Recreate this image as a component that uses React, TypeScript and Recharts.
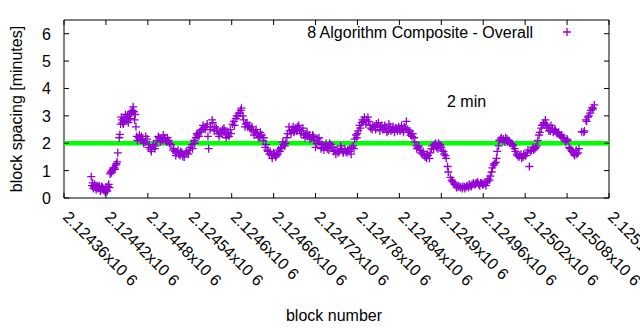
import { ScatterChart, Scatter, XAxis, YAxis, ReferenceLine, ReferenceArea, Customized } from 'recharts';

// block numbers (x) and block spacing in minutes (y)
const blocks = [
  2124399, 2124401, 2124403, 2124405, 2124407, 2124409, 2124411, 2124413, 2124415, 2124417,
  2124419, 2124421, 2124423, 2124425, 2124426, 2124427, 2124429, 2124430, 2124432, 2124434,
  2124436, 2124437, 2124439, 2124440, 2124443, 2124444, 2124446, 2124447, 2124449, 2124450,
  2124451, 2124453, 2124454, 2124456, 2124457, 2124459, 2124460, 2124461, 2124463, 2124464,
  2124467, 2124470, 2124473, 2124476, 2124479, 2124481, 2124484, 2124487, 2124490, 2124493,
  2124496, 2124499, 2124501, 2124504, 2124507, 2124510, 2124513, 2124516, 2124519, 2124521,
  2124524, 2124527, 2124530, 2124533, 2124536, 2124539, 2124541, 2124543, 2124546, 2124549,
  2124551, 2124554, 2124557, 2124560, 2124563, 2124566, 2124567, 2124570, 2124573, 2124576,
  2124579, 2124581, 2124584, 2124587, 2124590, 2124593, 2124596, 2124599, 2124601, 2124604,
  2124607, 2124610, 2124613, 2124614, 2124617, 2124620, 2124623, 2124626, 2124629, 2124631,
  2124634, 2124637, 2124640, 2124643, 2124646, 2124649, 2124651, 2124654, 2124657, 2124660,
  2124663, 2124666, 2124669, 2124671, 2124674, 2124677, 2124680, 2124683, 2124686, 2124689,
  2124691, 2124694, 2124697, 2124700, 2124703, 2124706, 2124709, 2124711, 2124714, 2124717,
  2124720, 2124723, 2124726, 2124729, 2124731, 2124734, 2124737, 2124740, 2124743, 2124746,
  2124749, 2124751, 2124754, 2124757, 2124760, 2124763, 2124766, 2124769, 2124771, 2124774,
  2124776, 2124779, 2124781, 2124784, 2124787, 2124790, 2124793, 2124796, 2124799, 2124801,
  2124804, 2124807, 2124810, 2124813, 2124816, 2124819, 2124821, 2124824, 2124827, 2124830,
  2124833, 2124836, 2124839, 2124841, 2124844, 2124847, 2124850, 2124853, 2124856, 2124859,
  2124861, 2124864, 2124867, 2124870, 2124873, 2124876, 2124879, 2124881, 2124884, 2124887,
  2124890, 2124893, 2124896, 2124899, 2124901, 2124904, 2124907, 2124909, 2124910, 2124913,
  2124916, 2124919, 2124921, 2124924, 2124927, 2124930, 2124933, 2124936, 2124939, 2124941,
  2124944, 2124947, 2124950, 2124953, 2124956, 2124959, 2124961, 2124964, 2124967, 2124970,
  2124973, 2124976, 2124979, 2124980, 2124983, 2124986, 2124989, 2124991, 2124994, 2124997,
  2125000, 2125003, 2125006, 2125009, 2125011, 2125014, 2125017, 2125020, 2125023, 2125026,
  2125029, 2125031, 2125034, 2125037, 2125040, 2125043, 2125046, 2125049, 2125051, 2125054,
  2125057, 2125060, 2125063, 2125066, 2125069, 2125071, 2125074, 2125077, 2125080, 2125083,
  2125086, 2125089, 2125091, 2125094, 2125097, 2125101, 2125104, 2125107, 2125110, 2125113,
  2125116, 2125119,
];

const spacing = [
  0.78, 0.55, 0.42, 0.38, 0.45, 0.35, 0.4, 0.3, 0.38, 0.28,
  0.22, 0.3, 0.42, 0.38, 0.88, 0.95, 1.0, 1.05, 1.12, 1.2,
  1.32, 1.65, 2.2, 2.32, 2.85, 2.75, 2.9, 2.8, 2.95, 2.85,
  3.0, 2.9, 3.05, 3.15, 3.1, 3.33, 3.15, 2.85, 2.6, 2.25,
  2.2, 2.15, 2.1, 2.05, 2.15, 1.85, 1.78, 1.88, 1.8, 2.1,
  2.2, 2.15, 2.1, 2.2, 2.05, 2.1, 1.95, 1.75, 1.7, 1.65,
  1.6, 1.7, 1.52, 1.6, 1.65, 1.75, 1.85, 1.95, 2.1, 2.2,
  2.3, 2.4, 2.5, 2.55, 2.6, 2.25, 1.8, 2.6, 2.75, 2.6,
  2.45, 2.35, 2.4, 2.5, 2.45, 2.3, 2.25, 2.35, 2.7, 2.65,
  3.0, 3.1, 3.2, 3.28, 2.85, 2.7, 2.6, 2.55, 2.6, 2.45,
  2.4, 2.35, 2.25, 2.3, 2.2, 1.95, 1.75, 1.6, 1.55, 1.65,
  1.5, 1.6, 1.7, 1.85, 1.95, 2.0, 2.35, 2.45, 2.5, 2.4,
  2.55, 2.6, 2.5, 2.45, 2.3, 2.35, 2.25, 2.3, 2.2, 2.25,
  1.85, 2.15, 2.05, 1.95, 1.85, 1.9, 1.8, 2.0, 1.85, 1.7,
  1.6, 1.75, 1.7, 1.8, 1.65, 1.7, 1.75, 1.8, 1.6, 1.9,
  2.15, 2.2, 2.45, 2.55, 2.85, 2.95, 2.85, 2.8, 2.55, 2.5,
  2.6, 2.7, 2.75, 2.6, 2.5, 2.65, 2.55, 2.45, 2.6, 2.5,
  2.4, 2.55, 2.6, 2.45, 2.5, 2.6, 2.8, 2.4, 2.3, 2.35,
  2.2, 1.9, 1.85, 1.75, 1.6, 1.55, 1.45, 1.55, 1.65, 1.9,
  1.95, 1.85, 2.0, 1.9, 1.75, 1.6, 1.45, 1.15, 0.95, 0.75,
  0.6, 0.5, 0.45, 0.4, 0.38, 0.35, 0.4, 0.42, 0.38, 0.45,
  0.5, 0.48, 0.55, 0.5, 0.55, 0.48, 0.52, 0.45, 0.7, 0.8,
  1.1, 1.25, 1.45, 1.7, 2.1, 2.2, 2.15, 2.05, 2.15, 2.1,
  2.0, 1.9, 1.7, 1.55, 1.5, 1.6, 1.5, 1.55, 1.65, 1.15,
  1.75, 1.85, 1.8, 1.9, 2.3, 2.55, 2.7, 2.85, 2.6, 2.45,
  2.65, 2.4, 2.5, 2.35, 2.3, 2.25, 2.2, 2.1, 2.15, 1.85,
  1.75, 1.65, 1.55, 1.6, 1.8, 2.42, 2.4, 2.85, 2.95, 3.1,
  3.3, 3.4,
];

const moreBlocks = [
  2124400, 2124402, 2124404, 2124406, 2124408, 2124410, 2124412, 2124414, 2124416, 2124418,
  2124420, 2124422, 2124424, 2124428, 2124431, 2124433, 2124435, 2124441, 2124442, 2124445,
  2124448, 2124452, 2124455, 2124458, 2124462, 2124465, 2124468, 2124471, 2124474, 2124477,
  2124482, 2124485, 2124488, 2124491, 2124495, 2124498, 2124502, 2124505, 2124508, 2124511,
  2124517, 2124520, 2124523, 2124526, 2124529, 2124532, 2124535, 2124538, 2124544, 2124547,
  2124550, 2124553, 2124556, 2124559, 2124562, 2124565, 2124569, 2124572, 2124575, 2124578,
  2124582, 2124586, 2124589, 2124592, 2124595, 2124598, 2124603, 2124606, 2124609, 2124612,
  2124616, 2124619, 2124622, 2124625, 2124628, 2124632, 2124635, 2124638, 2124641, 2124645,
  2124648, 2124652, 2124655, 2124658, 2124661, 2124664, 2124667, 2124670, 2124673, 2124676,
  2124679, 2124682, 2124685, 2124688, 2124690, 2124693, 2124696, 2124699, 2124702, 2124705,
  2124708, 2124712, 2124716, 2124718, 2124722, 2124725, 2124728, 2124732, 2124735, 2124739,
  2124742, 2124745, 2124748, 2124752, 2124756, 2124759, 2124762, 2124765, 2124768, 2124772,
  2124775, 2124778, 2124780, 2124783, 2124786, 2124789, 2124792, 2124795, 2124798, 2124802,
  2124806, 2124809, 2124812, 2124815, 2124818, 2124822, 2124825, 2124828, 2124831, 2124834,
  2124837, 2124840, 2124843, 2124846, 2124849, 2124852, 2124855, 2124858, 2124862, 2124865,
  2124868, 2124871, 2124874, 2124877, 2124880, 2124883, 2124886, 2124889, 2124892, 2124895,
  2124898, 2124900, 2124903, 2124906, 2124915, 2124918, 2124922, 2124925, 2124928, 2124931,
  2124934, 2124937, 2124940, 2124943, 2124946, 2124949, 2124952, 2124955, 2124958, 2124960,
  2124963, 2124966, 2124969, 2124972, 2124975, 2124978, 2124982, 2124985, 2124988, 2124992,
  2124995, 2124998, 2125002, 2125005, 2125008, 2125012, 2125015, 2125018, 2125021, 2125024,
  2125028, 2125032, 2125035, 2125038, 2125041, 2125044, 2125047, 2125050, 2125053, 2125056,
  2125059, 2125062, 2125065, 2125068, 2125072, 2125075, 2125078, 2125081, 2125084, 2125087,
  2125090, 2125093, 2125096, 2125105, 2125108, 2125111, 2125114, 2125117,
];

const moreSpacing = [
  0.45, 0.35, 0.5, 0.3, 0.4, 0.45, 0.25, 0.42, 0.35, 0.3,
  0.4, 0.25, 0.5, 0.92, 1.1, 1.05, 1.25, 2.7, 2.95, 2.7,
  3.05, 2.75, 2.9, 3.2, 3.05, 2.1, 2.3, 2.25, 2.0, 2.25,
  1.95, 1.7, 1.95, 1.9, 2.25, 2.05, 2.3, 2.1, 2.2, 2.0,
  1.8, 1.55, 1.75, 1.55, 1.65, 1.5, 1.7, 1.6, 1.8, 2.0,
  2.35, 2.25, 2.45, 2.65, 2.5, 2.7, 2.5, 2.85, 2.45, 2.55,
  2.25, 2.35, 2.55, 2.2, 2.4, 2.5, 2.8, 2.9, 3.0, 3.1,
  3.0, 2.6, 2.75, 2.65, 2.5, 2.3, 2.5, 2.2, 2.4, 2.1,
  1.85, 1.7, 1.7, 1.45, 1.6, 1.55, 1.75, 1.8, 2.05, 1.9,
  2.2, 2.6, 2.35, 2.6, 2.45, 2.45, 2.65, 2.35, 2.55, 2.2,
  2.4, 2.15, 2.3, 2.1, 2.0, 2.2, 1.8, 1.75, 2.0, 1.75,
  1.95, 1.85, 1.75, 1.65, 1.9, 1.7, 1.8, 1.65, 1.7, 1.85,
  1.8, 2.3, 2.35, 2.65, 2.75, 2.8, 2.7, 2.95, 2.65, 2.65,
  2.5, 2.6, 2.45, 2.65, 2.55, 2.4, 2.7, 2.45, 2.6, 2.55,
  2.45, 2.5, 2.65, 2.4, 2.55, 2.5, 2.45, 2.25, 2.05, 1.8,
  1.9, 1.65, 1.7, 1.5, 1.6, 1.45, 1.8, 1.8, 2.0, 1.8,
  1.95, 1.85, 1.7, 1.55, 0.65, 0.55, 0.38, 0.45, 0.4, 0.42,
  0.35, 0.45, 0.5, 0.42, 0.55, 0.5, 0.58, 0.45, 0.55, 0.5,
  0.55, 0.6, 0.65, 0.95, 1.2, 1.3, 1.9, 2.15, 2.1, 2.2,
  2.05, 2.0, 1.95, 1.8, 1.6, 1.55, 1.45, 1.6, 1.55, 1.75,
  1.7, 1.75, 1.85, 2.1, 2.4, 2.65, 2.75, 2.7, 2.55, 2.45,
  2.55, 2.45, 2.4, 2.4, 2.3, 2.2, 2.05, 2.1, 1.8, 1.7,
  1.6, 1.75, 1.65, 2.45, 2.8, 3.0, 3.2, 3.25,
];

const xTicks = [
  2124360, 2124420, 2124480, 2124540, 2124600, 2124660, 2124720,
  2124780, 2124840, 2124900, 2124960, 2125020, 2125080, 2125140,
];
const xTickLabels = [
  '2.12436', '2.12442', '2.12448', '2.12454', '2.1246', '2.12466', '2.12472',
  '2.12478', '2.12484', '2.1249', '2.12496', '2.12502', '2.12508', '2.12514',
];
const yTicks = [0, 1, 2, 3, 4, 5, 6];
const target = 2;

const data = [
  ...blocks.map((b, i) => ({ block: b, spacing: spacing[i] })),
  ...moreBlocks.map((b, i) => ({ block: b, spacing: moreSpacing[i] })),
].sort((a, b) => a.block - b.block);

const FONT = '"Liberation Sans", Arial, sans-serif';
const PURPLE = '#9400d3';
// plot box edges (px)
const LEFT = 64;
const RIGHT = 609;
const TOP = 20;
const BOTTOM = 198;
const TICK = 5;

function Plus({ cx, cy }: any) {
  return <path d={`M${cx - 4},${cy}h8M${cx},${cy - 4}v8`} stroke={PURPLE} strokeWidth={1.3} fill="none" />;
}

function XTick({ x, payload }: any) {
  const label = xTickLabels[xTicks.indexOf(payload.value)];
  return (
    <g>
      <line x1={x} x2={x} y1={BOTTOM} y2={BOTTOM - TICK} stroke="#000" />
      <line x1={x} x2={x} y1={TOP} y2={TOP + TICK} stroke="#000" />
      <text transform={`translate(${x - 2},218) rotate(45)`} fontFamily={FONT} fontSize={16} fill="#000">
        {label}x10<tspan dx={5}>6</tspan>
      </text>
    </g>
  );
}

function YTick({ y, payload }: any) {
  return (
    <g>
      <line x1={LEFT} x2={LEFT + TICK} y1={y} y2={y} stroke="#000" />
      <line x1={RIGHT - TICK} x2={RIGHT} y1={y} y2={y} stroke="#000" />
      <text x={51} y={y + 6} textAnchor="end" fontFamily={FONT} fontSize={16} fill="#000">
        {payload.value}
      </text>
    </g>
  );
}

function Labels() {
  return (
    <g fontFamily={FONT} fontSize={16} fill="#000">
      <text transform="translate(22,109) rotate(-90)" textAnchor="middle">
        block spacing [minutes]
      </text>
      <text x={334} y={321} textAnchor="middle">
        block number
      </text>
      <text x={533} y={38} textAnchor="end">
        8 Algorithm Composite - Overall
      </text>
      <Plus cx={567} cy={32} />
      <text x={447} y={107}>
        2 min
      </text>
    </g>
  );
}

export default function App() {
  return (
    <div style={{ position: 'absolute', left: 0, top: 0, background: '#fff' }}>
      <ScatterChart width={640} height={330} margin={{ top: TOP, right: 640 - RIGHT, bottom: 0, left: 0 }}>
        <XAxis
          type="number"
          dataKey="block"
          domain={[2124360, 2125140]}
          ticks={xTicks}
          interval={0}
          height={330 - BOTTOM}
          tick={<XTick />}
          tickLine={false}
          axisLine={false}
          allowDataOverflow
        />
        <YAxis
          type="number"
          dataKey="spacing"
          domain={[0, 6.5]}
          ticks={yTicks}
          interval={0}
          width={LEFT}
          tick={<YTick />}
          tickLine={false}
          axisLine={false}
          allowDataOverflow
        />
        <Scatter data={data} shape={<Plus />} isAnimationActive={false} />
        <ReferenceLine y={target} stroke="#00ff00" strokeWidth={4.5} />
        <ReferenceArea x1={2124360} x2={2125140} y1={0} y2={6.5} fill="none" stroke="#000" strokeWidth={1} />
        <Customized component={Labels} />
      </ScatterChart>
    </div>
  );
}
